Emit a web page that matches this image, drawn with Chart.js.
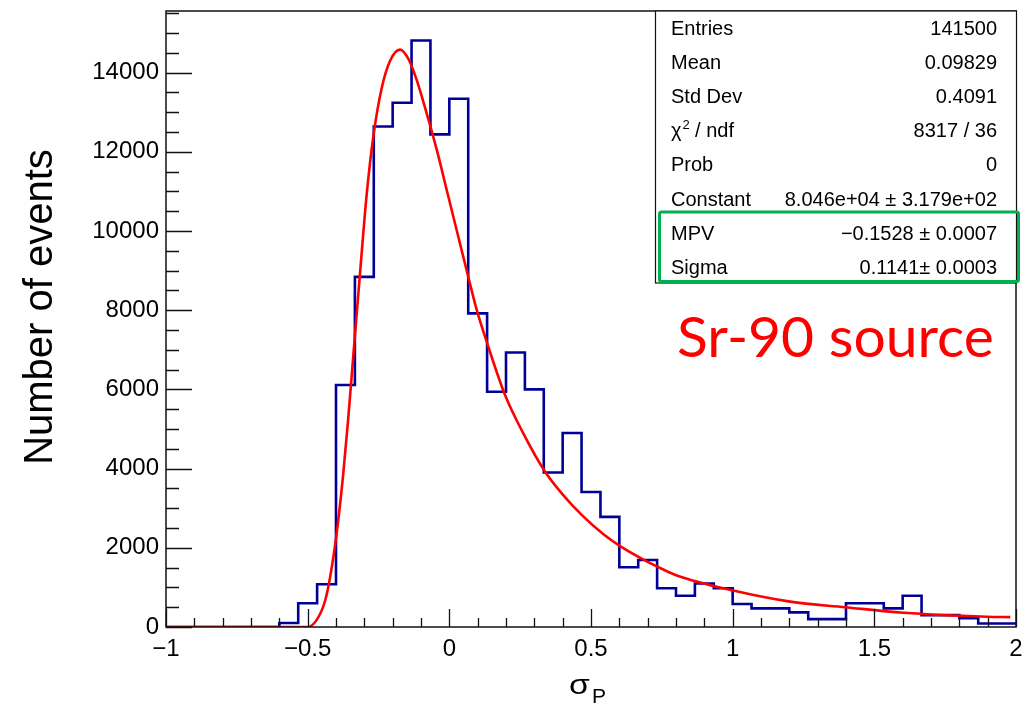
<!DOCTYPE html>
<html>
<head>
<meta charset="utf-8">
<script src="https://cdn.jsdelivr.net/npm/chart.js@4.4.1/dist/chart.umd.min.js"></script>
<style>
  html, body { margin: 0; padding: 0; background: #fff; }
</style>
</head>
<body>
<canvas id="c" width="1029" height="708"></canvas>
<script>
// histogram, 45 bins of width 1/15 from -1 to 2
const xMin = -1
const binWidth = 1 / 15
const counts = [
  0, 0, 0, 0, 0, 0,
  100, 600, 1080, 6110, 8840, 12640, 13240, 14810, 12440, 13340,
  7920, 5940, 6930, 6000, 3900, 4900, 3410, 2780, 1510, 1690,
  980, 790, 1100, 980, 580, 470, 470, 370, 200, 200,
  600, 600, 470, 790, 300, 300, 220, 90, 90
]

// landau fit
const fitX = [-1, -0.5, -0.468, -0.439, -0.421, -0.397, -0.374, -0.357, -0.339, -0.327,
  -0.315, -0.292, -0.268, -0.239, -0.209, -0.174, -0.145, -0.115, -0.080, -0.044,
  -0.009, 0.026, 0.061, 0.097, 0.132, 0.197, 0.261, 0.338, 0.402, 0.467,
  0.544, 0.603, 0.685, 0.744, 0.803, 1.002, 1.203, 1.397, 1.603, 1.897, 1.98]
const fitY = [0, 0, 180, 650, 1250, 2400, 3900, 5250, 6850, 7900,
  8950, 10900, 12400, 13600, 14300, 14580, 14350, 13810, 12970, 12040,
  11030, 10020, 9010, 8000, 7200, 5850, 4890, 3920, 3330, 2830,
  2340, 2040, 1700, 1490, 1300, 920, 640, 500, 360, 260, 250]

const yMax = 15555
const yTicks = [0, 2000, 4000, 6000, 8000, 10000, 12000, 14000]
const xTicks = [-1, -0.5, 0, 0.5, 1, 1.5, 2]

const statLabels = ['Entries', 'Mean', 'Std Dev', 'chi2', 'Prob', 'Constant', 'MPV', 'Sigma']
const statValues = ['141500', '0.09829', '0.4091', '8317 / 36', '0',
  '8.046e+04 \u00B1 3.179e+02', '\u22120.1528 \u00B1 0.0007', '0.1141\u00B1 0.0003']

const FONT = '"Liberation Sans", Arial, Helvetica, sans-serif'

const histPoints = counts.map((c, i) => ({ x: xMin + i * binWidth, y: c }))
histPoints.push({ x: 2, y: counts[counts.length - 1] })
const fitPoints = fitX.map((x, i) => ({ x, y: fitY[i] }))

const rootFrame = {
  id: 'rootFrame',
  afterDatasetsDraw (chart) {
    const { ctx, chartArea: a } = chart
    const xs = chart.scales.x
    const ys = chart.scales.y
    ctx.save()
    ctx.strokeStyle = '#111'
    ctx.lineWidth = 1.5
    ctx.strokeRect(a.left, a.top, a.right - a.left, a.bottom - a.top)
    ctx.beginPath()
    // y ticks, inward
    for (let v = 0; v <= yMax; v += 500) {
      const py = Math.round(ys.getPixelForValue(v)) + 0.5
      const len = v % 2000 === 0 ? 26 : 13
      ctx.moveTo(a.left, py)
      ctx.lineTo(a.left + len, py)
    }
    // x ticks, inward
    for (let k = 0; k <= 30; k++) {
      const px = Math.round(xs.getPixelForValue(-1 + k * 0.1)) + 0.5
      const len = k % 5 === 0 ? 18 : 9
      ctx.moveTo(px, a.bottom)
      ctx.lineTo(px, a.bottom - len)
    }
    ctx.lineWidth = 1.3
    ctx.stroke()
    ctx.restore()
  },
  afterDraw (chart) {
    const { ctx } = chart
    ctx.save()
    ctx.fillStyle = '#000'

    // axis titles
    ctx.font = '40px ' + FONT
    ctx.textAlign = 'center'
    ctx.textBaseline = 'alphabetic'
    ctx.save()
    ctx.translate(51.5, 307)
    ctx.rotate(-Math.PI / 2)
    ctx.fillText('Number of events', 0, 0)
    ctx.restore()
    ctx.textAlign = 'left'
    ctx.save()
    ctx.translate(569, 694)
    ctx.scale(1.2, 1)
    ctx.font = '28px ' + FONT
    ctx.fillText('\u03C3', 0, 0)
    ctx.restore()
    ctx.font = '21px ' + FONT
    ctx.fillText('P', 592, 703)

    // stat box
    ctx.fillStyle = '#fff'
    ctx.fillRect(655, 11, 361, 272)
    ctx.strokeStyle = '#111'
    ctx.lineWidth = 1.2
    ctx.strokeRect(655.5, 11, 361, 272)
    ctx.fillStyle = '#000'
    ctx.font = '20px ' + FONT
    statLabels.forEach((lab, i) => {
      const base = 35 + i * 34.1
      ctx.textAlign = 'left'
      if (lab === 'chi2') {
        ctx.fillText('\u03C7', 671, base)
        const w = ctx.measureText('\u03C7').width
        ctx.font = '13px ' + FONT
        ctx.fillText('2', 671 + w + 1, base - 8)
        ctx.font = '20px ' + FONT
        ctx.fillText(' / ndf', 671 + w + 8, base)
      } else {
        ctx.fillText(lab, 671, base)
      }
      ctx.textAlign = 'right'
      ctx.fillText(statValues[i], 997, base)
    })

    // highlight box
    ctx.strokeStyle = '#00b050'
    ctx.lineWidth = 3
    ctx.beginPath()
    if (ctx.roundRect) ctx.roundRect(659.5, 212, 359, 69.5, 2)
    else ctx.rect(659.5, 212, 359, 69.5)
    ctx.stroke()

    // annotation
    ctx.fillStyle = '#ff0000'
    ctx.textAlign = 'left'
    ctx.font = '57px Lato, "Open Sans", sans-serif'
    ctx.fillText('Sr-90 source', 677, 357)
    ctx.restore()
  }
}

new Chart(document.getElementById('c'), {
  type: 'line',
  data: {
    datasets: [
      {
        label: 'fit',
        data: fitPoints,
        borderColor: '#ff0000',
        borderWidth: 2.6,
        pointRadius: 0,
        cubicInterpolationMode: 'monotone',
        order: 0
      },
      {
        label: 'hist',
        data: histPoints,
        borderColor: '#000099',
        borderWidth: 2.6,
        pointRadius: 0,
        stepped: 'before',
        order: 1
      }
    ]
  },
  options: {
    responsive: false,
    animation: false,
    layout: { padding: { top: 11, right: 13, left: 0, bottom: 0 } },
    plugins: { legend: { display: false }, tooltip: { enabled: false } },
    scales: {
      x: {
        type: 'linear',
        min: -1,
        max: 2,
        grid: { display: false, drawTicks: false },
        border: { display: false },
        afterBuildTicks: s => { s.ticks = xTicks.map(v => ({ value: v })) },
        afterFit: s => {
          s.height = 81
          s.paddingLeft = 0
          s.paddingRight = 0
        },
        ticks: {
          padding: 8,
          color: '#000',
          font: { family: FONT, size: 24 },
          callback: v => String(+v.toFixed(2)).replace('-', '\u2212')
        }
      },
      y: {
        min: 0,
        max: yMax,
        grid: { display: false, drawTicks: false },
        border: { display: false },
        afterBuildTicks: s => { s.ticks = yTicks.map(v => ({ value: v })) },
        afterFit: s => {
          s.width = 166
          s.paddingTop = 0
          s.paddingBottom = 0
        },
        ticks: {
          padding: 7,
          color: '#000',
          font: { family: FONT, size: 24 },
          callback: v => String(v)
        }
      }
    }
  },
  plugins: [rootFrame]
})
</script>
</body>
</html>
